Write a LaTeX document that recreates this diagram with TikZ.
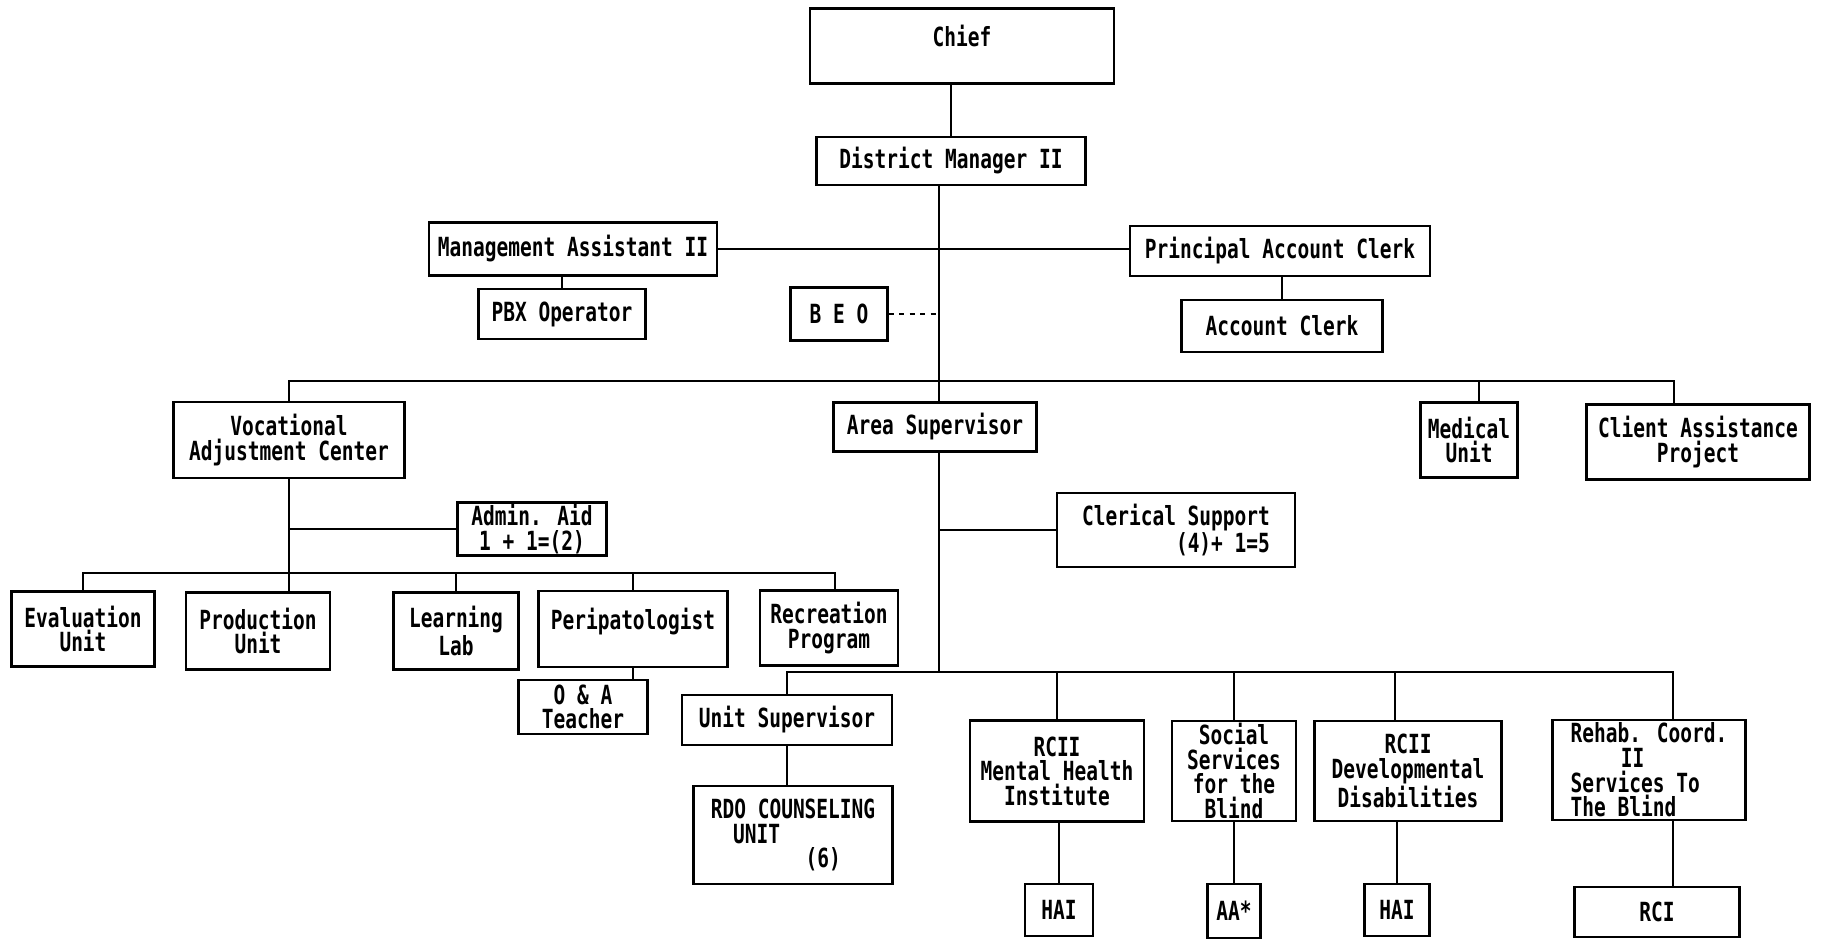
\documentclass[tikz,border=0pt]{standalone}
\usepackage{fontspec}
\newfontfamily\orgfont[FakeStretch=0.74]{DejaVu Sans Mono Bold}
\usetikzlibrary{positioning}

\tikzset{
  unit/.style={draw, line width=1.2pt, align=center, inner sep=1pt,
    font=\orgfont\fontsize{15}{14}\selectfont},
  link/.style={line width=1.2pt},
}

\begin{document}
\begin{tikzpicture}[x=0.02cm, y=-0.02cm]
    \useasboundingbox (0,0) rectangle (1823,942);
    % top of the chart
    \node[unit, minimum width=6.08cm, minimum height=1.5cm] (chief) at (962,46) {Chief\\[-2pt]\mbox{}};
    \node[unit, minimum width=5.38cm, minimum height=0.96cm] (dm) at (951,161) {District Manager II};
    \node[unit, minimum width=5.76cm, minimum height=1.06cm] (ma) at (573,249) {Management Assistant II};
    \node[unit, minimum width=6.0cm, minimum height=1.0cm] (pac) at (1280,251) {Principal Account Clerk};
    \node[unit, minimum width=3.34cm, minimum height=1.0cm] (pbx) at (562,314) {PBX Operator};
    \node[unit, minimum width=1.94cm, minimum height=1.06cm] (beo) at (839,314) {B E O};
    \node[unit, minimum width=4.02cm, minimum height=1.04cm] (ac) at (1282,326) {Account Clerk};
    \coordinate (spine) at (939,0);
    \coordinate (topbus) at (0,381);
    \draw[link] (dm.north) -- (dm.north |- chief.south);
    \draw[link] (spine |- dm.south) -- (spine |- topbus);
    \draw[link] (ma.east) -- (ma.east -| pac.west);
    \draw[link] (pbx.north) -- (pbx.north |- ma.south);
    \draw[link] (ac.north) -- (ac.north |- pac.south);
    \draw[link, dashed] (beo.east) -- (spine |- beo.east);

    % second level
    \node[unit, minimum width=4.62cm, minimum height=1.52cm] (vac) at (289,440) {Vocational\\Adjustment Center};
    \node[unit, minimum width=4.06cm, minimum height=0.98cm] (as) at (935,427) {Area Supervisor};
    \node[unit, minimum width=1.94cm, minimum height=1.5cm] (med) at (1469,440) {Medical\\Unit};
    \node[unit, minimum width=4.46cm, minimum height=1.5cm] (cap) at (1698,442) {Client Assistance\\Project};
    \draw[link] (vac.north) |- (spine |- topbus) -- (spine |- as.north);
    \draw[link] (spine |- topbus) -| ([xshift=-0.48cm]cap.north);
    \draw[link] ([xshift=0.2cm]med.north) -- ([xshift=0.2cm]med.north |- topbus);

    % vocational adjustment center
    \node[unit, minimum width=2.98cm, minimum height=1.06cm] (aid) at (532,529) {Admin. Aid\\1 + 1=(2)};
    \node[unit, minimum width=2.86cm, minimum height=1.5cm] (eval) at (83,629) {Evaluation\\Unit};
    \node[unit, minimum width=2.88cm, minimum height=1.54cm] (prod) at (258,631) {Production\\Unit};
    \node[unit, minimum width=2.5cm, minimum height=1.54cm] (lab) at (456,631) {Learning\\Lab};
    \node[unit, minimum width=3.78cm, minimum height=1.52cm] (peri) at (633,629) {Peripatologist\\[-2pt]\mbox{}};
    \node[unit, minimum width=2.76cm, minimum height=1.5cm] (rec) at (829,628) {Recreation\\Program};
    \node[unit, minimum width=2.58cm, minimum height=1.08cm] (oa) at (583,707) {O \& A\\Teacher};
    \coordinate (vbus) at (0,573);
    \draw[link] (vac.south) -- (vac.south |- prod.north);
    \draw[link] (aid.west) -- (aid.west -| vac.south);
    \draw[link] (eval.north) |- ([xshift=0.12cm]rec.north |- vbus) -- ([xshift=0.12cm]rec.north);
    \draw[link] (lab.north) -- (lab.north |- vbus);
    \draw[link] (peri.north) -- (peri.north |- vbus);
    \draw[link] (peri.south) -- (peri.south |- oa.north);

    % area supervisor
    \node[unit, minimum width=4.76cm, minimum height=1.48cm, align=right] (cler) at (1176,530) {Clerical Support\\(4)+ 1=5};
    \node[unit, minimum width=4.2cm, minimum height=1.0cm] (us) at (787,720) {Unit Supervisor};
    \node[unit, minimum width=3.98cm, minimum height=1.96cm, align=left] (rdo) at (793,835) {RDO COUNSELING\\\hspace{0.85em}UNIT\\\hspace{3.6em}(6)};
    \node[unit, minimum width=3.48cm, minimum height=2.02cm] (mh) at (1057,771) {RCII\\Mental Health\\Institute};
    \node[unit, minimum width=2.48cm, minimum height=2.0cm] (ssb) at (1234,771) {Social\\Services\\for the\\Blind};
    \node[unit, minimum width=3.74cm, minimum height=2.0cm] (dd) at (1408,771) {RCII\\Developmental\\Disabilities};
    \node[unit, minimum width=3.86cm, minimum height=2.0cm, align=left] (rehab) at (1649,770) {Rehab. Coord.\\\hspace{1.9em}II\\Services To\\The Blind};
    \coordinate (lbus) at (0,672);
    \draw[link] (spine |- as.south) -- (spine |- lbus);
    \draw[link] (cler.west) -- (cler.west -| spine);
    \draw[link] (us.north) |- ([xshift=0.48cm]rehab.north |- lbus) -- ([xshift=0.48cm]rehab.north);
    \draw[link] (mh.north) -- (mh.north |- lbus);
    \draw[link] (ssb.north) -- (ssb.north |- lbus);
    \draw[link] ([xshift=-0.26cm]dd.north) -- ([xshift=-0.26cm]dd.north |- lbus);
    \draw[link] (us.south) -- (us.south |- rdo.north);

    % bottom row
    \node[unit, minimum width=1.36cm, minimum height=1.04cm] (hai1) at (1059,910) {HAI};
    \node[unit, minimum width=1.06cm, minimum height=1.08cm] (aa) at (1234,911) {AA*};
    \node[unit, minimum width=1.3cm, minimum height=1.04cm] (hai2) at (1397,910) {HAI};
    \node[unit, minimum width=3.3cm, minimum height=1.0cm] (rci) at (1657,912) {RCI};
    \draw[link] (hai1.north) -- (hai1.north |- mh.south);
    \draw[link] (aa.north) -- (aa.north |- ssb.south);
    \draw[link] (hai2.north) -- (hai2.north |- dd.south);
    \draw[link] ([xshift=0.48cm]rehab.south) -- ([xshift=0.48cm]rehab.south |- rci.north);
\end{tikzpicture}
\end{document}
